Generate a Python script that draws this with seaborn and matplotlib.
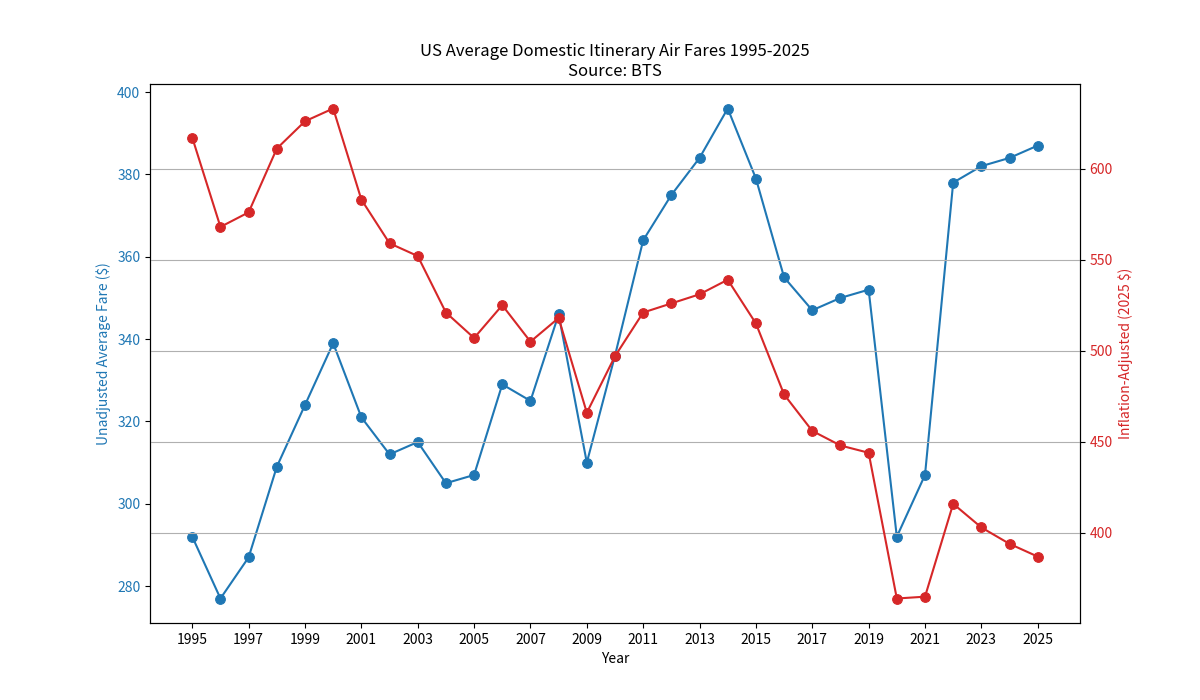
import matplotlib
matplotlib.use("Agg")
import matplotlib.pyplot as plt
import seaborn as sns
import pandas as pd

years = list(range(1995, 2026))

# unadjusted average fare ($)
unadjusted = [292, 277, 287, 309, 324, 339, 321, 312, 315, 305,
              307, 329, 325, 346, 310, 336, 364, 375, 384, 396,
              379, 355, 347, 350, 352, 292, 307, 378, 382, 384, 387]

# inflation-adjusted (2025 $)
adjusted = [617, 568, 576, 611, 626, 633, 583, 559, 552, 521,
            507, 525, 505, 518, 466, 497, 521, 526, 531, 539,
            515, 476, 456, 448, 444, 364, 365, 416, 403, 394, 387]

df = pd.DataFrame({"Year": years, "Unadjusted": unadjusted, "Adjusted": adjusted})

plt.rcParams['font.family'] = ['Noto Sans CJK JP', 'DejaVu Sans']

blue = "tab:blue"
red = "tab:red"

fig, ax1 = plt.subplots(figsize=(12, 7), dpi=100)

sns.lineplot(data=df, x="Year", y="Unadjusted", ax=ax1, color=blue,
             marker="o", markersize=7, markeredgecolor=blue, linewidth=1.5)
ax1.set_xlabel("Year")
ax1.set_ylabel("Unadjusted Average Fare ($)", color=blue)
ax1.tick_params(axis="y", labelcolor=blue)
ax1.set_xticks(years[::2])

ax2 = ax1.twinx()
sns.lineplot(data=df, x="Year", y="Adjusted", ax=ax2, color=red,
             marker="o", markersize=7, markeredgecolor=red, linewidth=1.5)
ax2.set_ylabel("Inflation-Adjusted (2025 $)", color=red)
ax2.tick_params(axis="y", labelcolor=red)
ax2.grid(True, axis="y")

plt.title("US Average Domestic Itinerary Air Fares 1995-2025\nSource: BTS")

plt.savefig("out.png", dpi=100)
